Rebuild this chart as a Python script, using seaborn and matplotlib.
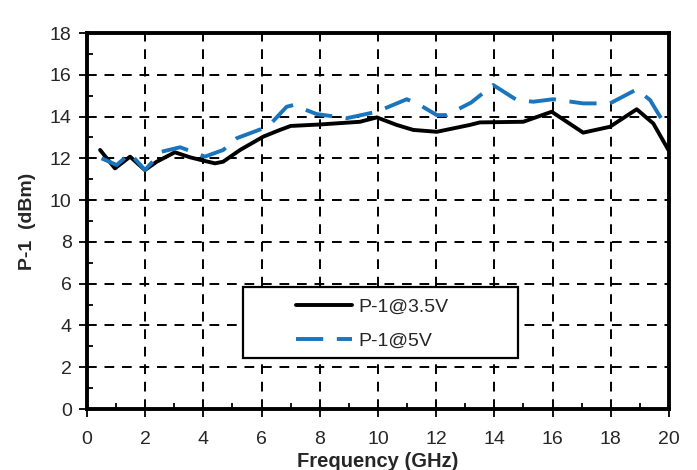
import numpy as np
import pandas as pd
import matplotlib.pyplot as plt
import seaborn as sns
from matplotlib.ticker import MultipleLocator
from matplotlib.patches import Rectangle

# valores
freq_35 = [0.45, 0.96, 1.48, 1.99, 2.40, 3.02, 3.54, 4.0, 4.40, 4.68, 5.26, 6.06, 6.63, 7.0,
           8.0, 9.38, 9.96, 10.64, 11.21, 12.02, 13.16, 13.5, 14.99, 15.97, 17.05, 17.97,
           18.89, 19.46, 19.98]
p1_35 = [12.40, 11.52, 12.08, 11.44, 11.84, 12.29, 12.05, 11.89, 11.76, 11.84, 12.40, 13.04, 13.36, 13.55,
         13.62, 13.75, 13.96, 13.6, 13.36, 13.27, 13.6, 13.72, 13.75, 14.23, 13.23, 13.51,
         14.35, 13.67, 12.4]

freq_5 = [0.5, 1.02, 1.48, 1.99, 2.57, 3.2, 3.77, 4.05, 4.68, 5.14, 6.06, 6.35, 6.86, 7.09,
          7.89, 8.92, 9.96, 10.99, 11.44, 12.02, 12.36, 13.2, 13.96, 14.77, 15.34, 16.02,
          17.05, 17.97, 18.89, 19.35, 19.8]
p1_5 = [12.0, 11.68, 12.24, 11.44, 12.32, 12.53, 12.24, 12.08, 12.4, 12.96, 13.44, 13.71, 14.47, 14.55,
        14.12, 13.92, 14.23, 14.83, 14.55, 14.07, 14.07, 14.67, 15.51, 14.79, 14.71, 14.83,
        14.63, 14.63, 15.3, 14.79, 13.75]

label_35 = 'P-1@3.5V'
label_5 = 'P-1@5V'

df = pd.concat([
    pd.DataFrame({'freq': freq_35, 'p1': p1_35, 'serie': label_35}),
    pd.DataFrame({'freq': freq_5, 'p1': p1_5, 'serie': label_5}),
])

sns.set_style('white')
plt.rcParams['font.family'] = ['Liberation Sans', 'DejaVu Sans']

W, H = 697, 470
fig = plt.figure(figsize=(W / 100, H / 100), dpi=100)
ax = fig.add_axes([87 / W, 1 - 409 / H, (669 - 87) / W, (409 - 33) / H])

sns.lineplot(data=df, x='freq', y='p1', hue='serie', style='serie',
             palette={label_35: 'black', label_5: '#1a75bc'},
             dashes={label_35: '', label_5: (7, 3.5)},
             linewidth=2.8, sort=False, ax=ax, legend=True)

ax.set_xlim(0, 20)
ax.set_ylim(0, 18)
ax.xaxis.set_major_locator(MultipleLocator(2))
ax.yaxis.set_major_locator(MultipleLocator(2))
ax.xaxis.set_minor_locator(MultipleLocator(1))
ax.yaxis.set_minor_locator(MultipleLocator(1))
ax.grid(True, which='major', color='black', linestyle=(0, (5, 4)), linewidth=1.4)
ax.tick_params(which='major', direction='out', length=6, width=1.3, labelsize=14, color='black', pad=5,
               left=True, bottom=True)
ax.tick_params(axis='x', which='major', pad=10)
ax.tick_params(which='minor', direction='in', length=4, width=1.3, color='black',
               left=True, bottom=True)
for s in ax.spines.values():
    s.set_linewidth(2.8)
    s.set_color('black')

ax.set_xlabel('Frequency (GHz)', fontsize=14.5, fontweight='bold', labelpad=3)
ax.set_ylabel('P-1  (dBm)', fontsize=14, fontweight='bold', labelpad=10)

# caixa da legenda
box = Rectangle(((243 - 87) / 582, (409 - 358) / 376), 275 / 582, 71 / 376,
                transform=ax.transAxes, facecolor='white', edgecolor='black',
                linewidth=1.6, zorder=5)
ax.add_patch(box)

h, l = ax.get_legend_handles_labels()
leg = ax.legend(h, l, loc='upper left', bbox_to_anchor=(296 / W, 1 - 298 / H),
                bbox_transform=fig.transFigure, frameon=False, fontsize=14,
                handlelength=2.9, handletextpad=0.3, labelspacing=0.85,
                borderpad=0, borderaxespad=0)
leg.set_zorder(6)

fig.savefig('out.png', dpi=100)
